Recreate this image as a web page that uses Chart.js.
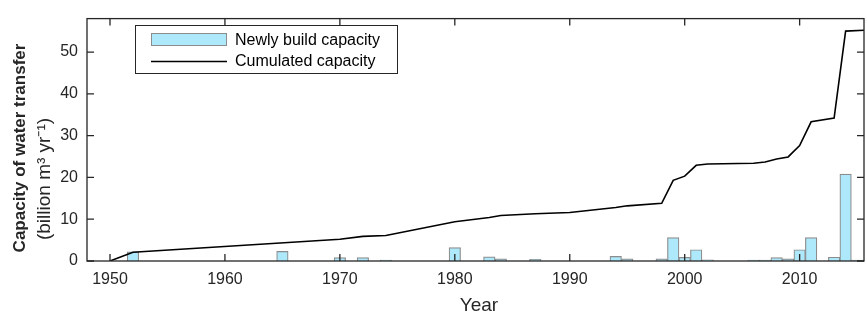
<!DOCTYPE html>
<html>
<head>
<meta charset="utf-8">
<script src="https://cdn.jsdelivr.net/npm/chart.js@4.4.0/dist/chart.umd.min.js"></script>
<style>
html,body{margin:0;padding:0;background:#fff;}
#wrap{width:867px;height:316px;position:relative;}
</style>
</head>
<body>
<div id="wrap"><canvas id="c" width="867" height="316"></canvas></div>
<script>
// ---- data ----
const barYears = [1952,1965,1970,1972,1974,1980,1983,1984,1987,1994,1995,1998,1999,2000,2001,2002,2006,2007,2008,2009,2010,2011,2013,2014,2015];
const barValues = [2.2,2.3,0.8,0.8,0.2,3.2,1.0,0.5,0.4,1.1,0.5,0.5,5.6,0.85,2.7,0.3,0.2,0.2,0.8,0.5,2.7,5.6,0.9,20.8,0.2];
const cumYears = [1950,1952,1970,1972,1974,1980,1983,1984,1987,1990,1994,1995,1998,1999,2000,2001,2002,2006,2007,2008,2009,2010,2011,2013,2014,2015.6];
const cumValues = [0,2.1,5.2,5.9,6.1,9.4,10.4,10.9,11.3,11.6,12.8,13.2,13.8,19.3,20.3,22.9,23.2,23.4,23.7,24.4,24.9,27.6,33.3,34.2,55.0,55.2];
const xTicks = [1950,1960,1970,1980,1990,2000,2010];
const yTicks = [0,10,20,30,40,50];
const barLabel = 'Newly build capacity';
const lineLabel = 'Cumulated capacity';
const yTitle1 = 'Capacity of water transfer';
const yTitle2 = '(billion m\u00B3 yr\u207B\u00B9)';
const xTitle = 'Year';

const FONT = '"Liberation Sans", Arial, Helvetica, sans-serif';
const AX = '#262626';

const framePlugin = {
  id: 'frame',
  afterDraw(chart) {
    const ctx = chart.ctx;
    const a = chart.chartArea;
    const xs = chart.scales.x, ys = chart.scales.y;
    ctx.save();
    ctx.strokeStyle = AX;
    ctx.lineWidth = 1.3;
    ctx.strokeRect(a.left, a.top, a.right - a.left, a.bottom - a.top);
    const tl = 7;
    ctx.beginPath();
    xTicks.forEach(v => {
      const px = xs.getPixelForValue(v);
      ctx.moveTo(px, a.bottom); ctx.lineTo(px, a.bottom - tl);
      ctx.moveTo(px, a.top); ctx.lineTo(px, a.top + tl);
    });
    yTicks.forEach(v => {
      const py = ys.getPixelForValue(v);
      ctx.moveTo(a.left, py); ctx.lineTo(a.left + tl, py);
      ctx.moveTo(a.right, py); ctx.lineTo(a.right - tl, py);
    });
    ctx.stroke();

    // y title
    ctx.fillStyle = AX;
    ctx.textAlign = 'center';
    ctx.textBaseline = 'alphabetic';
    ctx.save();
    ctx.translate(25, 148);
    ctx.rotate(-Math.PI / 2);
    ctx.font = 'bold 17px ' + FONT;
    ctx.fillText(yTitle1, 0, 0);
    ctx.restore();
    ctx.save();
    ctx.translate(50, 179);
    ctx.rotate(-Math.PI / 2);
    ctx.font = '19px ' + FONT;
    ctx.fillText(yTitle2, 0, 0);
    ctx.restore();

    // x title
    ctx.font = '19px ' + FONT;
    ctx.fillText(xTitle, 479, 311);

    // legend
    const bx = 135, by = 25, bw = 262, bh = 48;
    ctx.fillStyle = '#ffffff';
    ctx.fillRect(bx, by, bw, bh);
    ctx.lineWidth = 1;
    ctx.strokeStyle = AX;
    ctx.strokeRect(bx + 0.5, by + 0.5, bw, bh);
    const d0 = chart.data.datasets[0], d1 = chart.data.datasets[1];
    ctx.fillStyle = d0.backgroundColor;
    ctx.fillRect(151, 33, 76, 13);
    ctx.strokeStyle = d0.borderColor;
    ctx.strokeRect(151.5, 33.5, 75, 12);
    ctx.strokeStyle = d1.borderColor;
    ctx.lineWidth = d1.borderWidth;
    ctx.beginPath();
    ctx.moveTo(151, 61.5); ctx.lineTo(227, 61.5);
    ctx.stroke();
    ctx.fillStyle = '#000';
    ctx.textAlign = 'left';
    ctx.textBaseline = 'middle';
    ctx.font = '16px ' + FONT;
    ctx.fillText(d0.label, 235, 41);
    ctx.fillText(d1.label, 235, 62);
    ctx.restore();
  }
};

new Chart(document.getElementById('c'), {
  data: {
    datasets: [
      {
        type: 'bar',
        label: barLabel,
        data: barYears.map((y, i) => ({x: y, y: barValues[i]})),
        backgroundColor: '#aee9fb',
        borderColor: '#8c8c8c',
        borderWidth: 1.2,
        barPercentage: 1,
        categoryPercentage: 1,
        order: 2
      },
      {
        type: 'line',
        label: lineLabel,
        data: cumYears.map((y, i) => ({x: y, y: cumValues[i]})),
        borderColor: '#000000',
        borderWidth: 1.6,
        pointRadius: 0,
        tension: 0,
        fill: false,
        order: 1
      }
    ]
  },
  options: {
    responsive: false,
    animation: false,
    layout: {padding: {left: 0, right: 3, top: 8, bottom: 0}},
    plugins: {legend: {display: false}, tooltip: {enabled: false}},
    scales: {
      x: {
        type: 'linear',
        min: 1948,
        max: 2015.6,
        offset: false,
        grid: {display: false, drawTicks: false},
        border: {display: false},
        afterBuildTicks(s) { s.ticks = xTicks.map(v => ({value: v})); },
        afterFit(s) { s.height = 55; },
        ticks: {
          font: {family: FONT, size: 16},
          color: AX,
          padding: 9,
          maxRotation: 0,
          autoSkip: false,
          callback: v => String(v)
        }
      },
      y: {
        type: 'linear',
        min: 0,
        max: 58,
        grid: {display: false, drawTicks: false},
        border: {display: false},
        afterBuildTicks(s) { s.ticks = yTicks.map(v => ({value: v})); },
        afterFit(s) { s.width = 87; },
        ticks: {
          font: {family: FONT, size: 16},
          color: AX,
          padding: 9,
          autoSkip: false
        }
      }
    }
  },
  plugins: [framePlugin]
});
</script>
</body>
</html>
